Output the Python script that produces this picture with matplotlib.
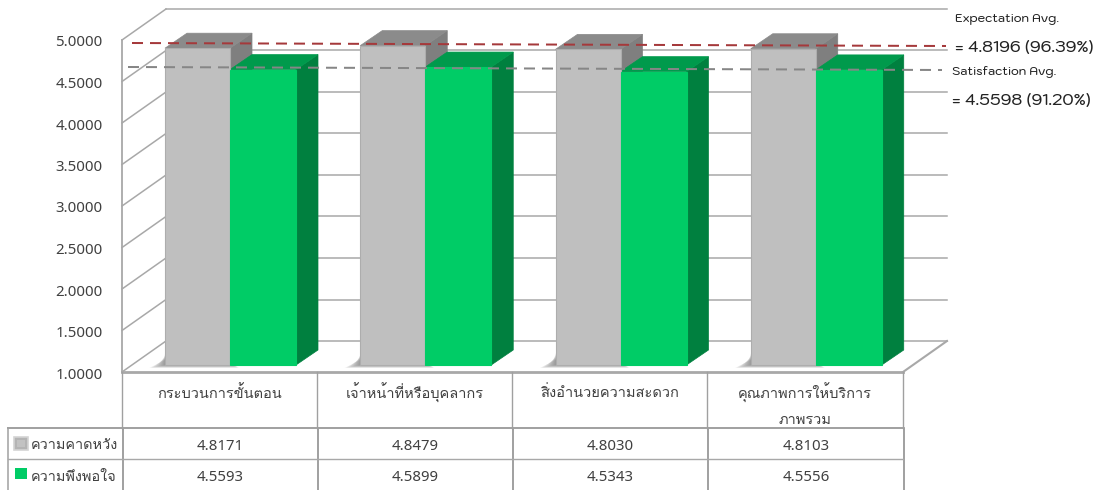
import matplotlib
matplotlib.use('Agg')
import matplotlib.pyplot as plt
from matplotlib.patches import Polygon
from matplotlib.transforms import ScaledTranslation

plt.rcParams['font.family'] = ['Loma', 'Noto Sans Thai', 'DejaVu Sans']

categories = ['กระบวนการขั้นตอน', 'เจ้าหน้าที่หรือบุคลากร', 'สิ่งอำนวยความสะดวก', 'คุณภาพการให้บริการ\nภาพรวม']
expectation = [4.8171, 4.8479, 4.8030, 4.8103]
satisfaction = [4.5593, 4.5899, 4.5343, 4.5556]
series_names = ['ความคาดหวัง', 'ความพึงพอใจ']
y_ticks = [1.0, 1.5, 2.0, 2.5, 3.0, 3.5, 4.0, 4.5, 5.0]
exp_avg_labels = ['Expectation Avg.', '= 4.8196 (96.39%)']
sat_avg_labels = ['Satisfaction Avg.', '= 4.5598 (91.20%)']

W, H = 1101, 490
LEFT, RIGHT, TOP, BOTTOM = 122, 903, 40, 372
PX_X = (RIGHT - LEFT) / 4
PX_Y = (BOTTOM - TOP) / 4
WALL = '#a8a8a8'
TXT = '#404040'
NUM_FONT = ['Noto Sans', 'DejaVu Sans']

fig = plt.figure(figsize=(W / 100, H / 100), dpi=100)
ax = fig.add_axes([LEFT / W, 1 - BOTTOM / H, (RIGHT - LEFT) / W, (BOTTOM - TOP) / H])
ax.set_xlim(0, 4)
ax.set_ylim(1, 5)
for s in ax.spines.values():
    s.set_visible(False)
ax.set_xticks([])
ax.set_yticks(y_ticks)
ax.set_yticklabels(['%.4f' % t for t in y_ticks], fontsize=10.8, color=TXT, family=NUM_FONT)
ax.tick_params(axis='y', length=0, pad=14)
nudge = ScaledTranslation(0, -1 / 100, fig.dpi_scale_trans)
for lab in ax.get_yticklabels():
    lab.set_transform(lab.get_transform() + nudge)

# depth of the 3d box, in data units
dx = 44 / PX_X
dy = 31 / PX_Y
bar_dx = 22 / PX_X
bar_dy = 15 / PX_Y
base = 7 / PX_Y


def poly(pts, color, z, edge='none', lw=0, alpha=1):
    ax.add_patch(Polygon(pts, closed=True, facecolor=color, edgecolor=edge, linewidth=lw,
                         alpha=alpha, zorder=z, clip_on=False))


# walls and floor
for t in y_ticks:
    ax.plot([0, dx], [t, t + dy], color=WALL, lw=1.1, zorder=1, clip_on=False)
    ax.plot([dx, 4 + dx], [t + dy, t + dy], color=WALL, lw=1.1, zorder=1, clip_on=False)
ax.plot([0, 0], [1, 5], color=WALL, lw=1.3, zorder=1, clip_on=False)
ax.plot([4, 4 + dx], [1, 1 + dy], color=WALL, lw=1.5, zorder=1, clip_on=False)


def draw_bar(x0, w, val, front, top, side, edge):
    y0 = 1 + base
    y1 = val + base
    poly([(x0 + w, y0), (x0 + w + bar_dx, y0 + bar_dy), (x0 + w + bar_dx, y1 + bar_dy), (x0 + w, y1)],
         side, 4, edge=side, lw=0.5)
    poly([(x0, y1), (x0 + bar_dx, y1 + bar_dy), (x0 + w + bar_dx, y1 + bar_dy), (x0 + w, y1)],
         top, 4, edge=top, lw=0.5)
    poly([(x0, y0), (x0 + w, y0), (x0 + w, y1), (x0, y1)], front, 5, edge=edge, lw=0.8)


bar_w1 = 65 / PX_X
bar_w2 = 66 / PX_X
start = 43 / PX_X
layers = 20
for i in range(len(categories)):
    x0 = i + start
    y0 = 1 + base
    # soft shadow on the floor, stacked see-through layers
    for k in range(layers):
        f = 1 - k / layers
        poly([(x0 - 16 * f / PX_X, y0 - 3 * f / PX_Y),
              (x0 + bar_w1 + 9 * f / PX_X, y0 - 3 * f / PX_Y),
              (x0 + bar_w1, y0 + 0.05),
              (x0, y0 + 12 * (1 - f * 0.6) / PX_Y)], '#404040', 2, alpha=0.03)
    draw_bar(x0, bar_w1, expectation[i], '#bfbfbf', '#8b8b8b', '#7f7f7f', '#adadad')
    draw_bar(x0 + bar_w1, bar_w2, satisfaction[i], '#00cc66', '#009a4c', '#00803f', '#00cc66')

# table, legend, avg lines drawn on a pixel overlay
ov = fig.add_axes([0, 0, 1, 1], facecolor='none')
ov.set_xlim(0, W)
ov.set_ylim(H, 0)
ov.axis('off')

ov.plot([122, 903], [372, 372], color='#a8a8a8', lw=2, zorder=3)
col_x = [122, 317, 512, 707, 903]
for x in col_x:
    ov.plot([x, x], [372, 428], color='#a0a0a0', lw=1, zorder=3)
    ov.plot([x + 1, x + 1], [428, H], color='#909090', lw=1.2, zorder=3)
ov.plot([8, 8], [428, H], color='#a0a0a0', lw=1.1, zorder=3)
ov.plot([8, 903], [428, 428], color='#a0a0a0', lw=1.4, zorder=3)
ov.plot([8, 903], [459, 459], color='#a8a8a8', lw=1, zorder=3)

for i, name in enumerate(categories):
    cx = (col_x[i] + col_x[i + 1]) / 2
    lines = name.split('\n')
    for j, ln in enumerate(lines):
        ov.text(cx, 393 + j * 27, ln, ha='center', va='center', fontsize=10.5, color=TXT)
    ov.text(cx + 1, 446, '%.4f' % expectation[i], ha='center', va='center', fontsize=10.8, color=TXT, family=NUM_FONT)
    ov.text(cx + 1, 477, '%.4f' % satisfaction[i], ha='center', va='center', fontsize=10.8, color=TXT, family=NUM_FONT)

ov.add_patch(Polygon([(14, 437), (28, 437), (28, 450), (14, 450)], facecolor='#b4b4b4', edgecolor='#d4d4d4', lw=1.2))
ov.add_patch(Polygon([(17, 440), (25, 440), (25, 447), (17, 447)], facecolor='#c2c2c2', edgecolor='none'))
ov.add_patch(Polygon([(15, 468), (27, 468), (27, 479), (15, 479)], facecolor='#00cc66', edgecolor='none'))
ov.text(31, 445, series_names[0], ha='left', va='center', fontsize=10.4, color=TXT)
ov.text(31, 477, series_names[1], ha='left', va='center', fontsize=10.4, color=TXT)

ov.plot([132, 946], [43, 46], color='#a5393b', lw=1.44, dashes=(5.5, 3.5), zorder=8)
ov.plot([128, 942], [67, 70], color='#868686', lw=1.44, dashes=(5.5, 3.5), zorder=8)

side_font = ['Kodchasan', 'DejaVu Sans']
ov.text(955, 19, exp_avg_labels[0], fontsize=8.7, color='#222222', family=side_font, va='center', weight='medium')
ov.text(955, 48, exp_avg_labels[1], fontsize=11.7, color='#222222', family=side_font, va='center', weight='medium')
ov.text(952, 71, sat_avg_labels[0], fontsize=8.7, color='#222222', family=side_font, va='center', weight='medium')
ov.text(952, 101, sat_avg_labels[1], fontsize=11.7, color='#222222', family=side_font, va='center', weight='medium')

fig.savefig('out.png', dpi=100)
